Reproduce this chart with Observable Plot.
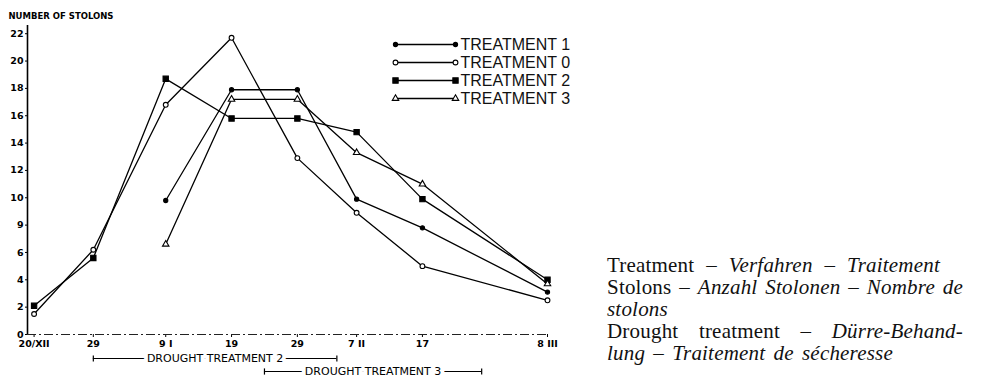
<!DOCTYPE html>
<html>
<head>
<meta charset="utf-8">
<script src="https://cdn.jsdelivr.net/npm/d3@7"></script>
<script src="https://cdn.jsdelivr.net/npm/@observablehq/plot@0.6"></script>
<style>
  html, body { margin: 0; padding: 0; background: white; }
  #wrap { position: relative; width: 983px; height: 379px; overflow: hidden; background: white; }
  #chart { position: absolute; left: 0; top: 0; }
  #legend { position: absolute; left: 385px; top: 33px; }
  #caption { position: absolute; left: 607px; top: 254px; width: 356px;
    font-family: "Liberation Serif", "Times New Roman", serif; font-size: 21px; line-height: 22px;
    letter-spacing: 0.2px; color: #111; }
  #caption div { white-space: nowrap; }
  #caption .j { text-align: justify; text-align-last: justify; }
</style>
</head>
<body>
<div id="wrap">
  <div id="chart"></div>
  <div id="legend"></div>
  <div id="caption">
    <div class="j" style="width:333px">Treatment – <i>Verfahren – Traitement</i></div>
    <div class="j">Stolons – <i>Anzahl Stolonen</i> – <i>Nombre de</i></div>
    <div><i>stolons</i></div>
    <div class="j">Drought treatment – <i>Dürre-Behand-</i></div>
    <div class="j" style="width:286px"><i>lung – Traitement de sécheresse</i></div>
  </div>
</div>
<script>
// ---- data ----
const utc = (y, m, d) => new Date(Date.UTC(y, m, d));
const sampleDates = [utc(1970,11,20), utc(1970,11,29), utc(1971,0,9), utc(1971,0,19),
                     utc(1971,0,29), utc(1971,1,7), utc(1971,1,17), utc(1971,2,8)];
const xTickLabels = ["20/XII", "29", "9 I", "19", "29", "7 II", "17", "8 III"];

const yTicks = [0, 2, 4, 6, 8, 10, 12, 14, 16, 18, 20, 22];
const yTickLabels = ["0", "2", "4", "6", "9", "10", "12", "14", "16", "18", "20", "22"];

const treatment1 = [null, null, 9.8, 17.9, 17.9, 9.9, 7.8, 3.1];
const treatment0 = [1.5, 6.2, 16.8, 21.7, 12.9, 8.9, 5.0, 2.5];
const treatment2 = [2.1, 5.6, 18.7, 15.8, 15.8, 14.8, 9.9, 4.0];
const treatment3 = [null, null, 6.6, 17.2, 17.2, 13.3, 11.0, 3.7];

const seriesNames = ["TREATMENT 1", "TREATMENT 0", "TREATMENT 2", "TREATMENT 3"];
const seriesValues = [treatment1, treatment0, treatment2, treatment3];

const droughtLabels = ["DROUGHT TREATMENT 2", "DROUGHT TREATMENT 3"];
const droughtStart = [utc(1970,11,29), utc(1971,0,24)];
const droughtEnd = [utc(1971,1,4), utc(1971,1,26)];

const yTitle = "NUMBER OF STOLONS";

// ---- derived tables ----
const rows = [];
seriesNames.forEach((s, k) => seriesValues[k].forEach((v, i) => {
  if (v != null) rows.push({series: s, date: sampleDates[i], value: v});
}));
const xLabelMap = new Map(sampleDates.map((d, i) => [+d, xTickLabels[i]]));
const yLabelMap = new Map(yTicks.map((t, i) => [t, yTickLabels[i]]));
const drought = droughtLabels.map((l, i) => ({label: l, start: droughtStart[i], end: droughtEnd[i],
  mid: new Date((+droughtStart[i] + +droughtEnd[i]) / 2)}));

const markerStyle = {
  "TREATMENT 1": {symbol: "circle", fill: "black", r: 2.1},
  "TREATMENT 0": {symbol: "circle", fill: "white", r: 2.4},
  "TREATMENT 2": {symbol: "square", fill: "black", r: 3.0},
  "TREATMENT 3": {symbol: "triangle", fill: "white", r: 2.4}
};
const bar = {draw(context, size) { const h = Math.sqrt(size) / 2; context.moveTo(0, -h); context.lineTo(0, h); }};

const markerMarks = (data, xAcc, yAcc) => seriesNames.map(s => Plot.dot(data.filter(d => d.series === s), {
  x: xAcc, y: yAcc, symbol: markerStyle[s].symbol, r: markerStyle[s].r,
  fill: markerStyle[s].fill, stroke: "black", strokeWidth: 1.1
}));

const W = 983, H = 379;
const chart = Plot.plot({
  width: W, height: H,
  marginLeft: 27, marginRight: W - 547, marginTop: 25, marginBottom: 45,
  style: {fontFamily: "DejaVu Sans", fontSize: "9px", color: "black", background: "white", overflow: "visible"},
  x: {type: "utc", domain: [utc(1970,11,19), utc(1971,2,8)]},
  y: {domain: [0, 22.6]},
  marks: [
    Plot.axisY({ticks: yTicks, tickFormat: d => yLabelMap.get(d), tickSize: 2, tickPadding: 2,
      fontWeight: "bold", fontSize: 9.5, label: null}),
    Plot.axisX({ticks: sampleDates, tickFormat: d => xLabelMap.get(+d), tickSize: 3, tickPadding: 3,
      fontWeight: "bold", fontSize: 9.5, label: null}),
    Plot.ruleX([utc(1970,11,19)], {y1: 0, y2: 22.6, stroke: "black", strokeWidth: 1.6}),
    Plot.ruleY([0], {stroke: "#222", strokeWidth: 1.1, strokeDasharray: "9,3,2,3"}),
    Plot.line(rows, {x: "date", y: "value", z: "series", stroke: "black", strokeWidth: 1.3}),
    ...markerMarks(rows, "date", "value"),
    // drought treatment brackets
    Plot.ruleY([drought[0]], {x1: "start", x2: "end", y: () => 0, dy: 24, stroke: "black", strokeWidth: 1.1}),
    Plot.dot([drought[0].start, drought[0].end], {x: d => d, y: () => 0, dy: 24, symbol: bar, r: 3.5, stroke: "black", strokeWidth: 1.2}),
    Plot.text([drought[0]], {x: "mid", y: () => 0, dy: 24, text: "label", fontSize: 11, fill: "black",
      stroke: "white", strokeWidth: 8}),
    Plot.ruleY([drought[1]], {x1: "start", x2: "end", y: () => 0, dy: 37, stroke: "black", strokeWidth: 1.1}),
    Plot.dot([drought[1].start, drought[1].end], {x: d => d, y: () => 0, dy: 37, symbol: bar, r: 3.5, stroke: "black", strokeWidth: 1.2}),
    Plot.text([drought[1]], {x: "mid", y: () => 0, dy: 37, text: "label", fontSize: 11, fill: "black",
      stroke: "white", strokeWidth: 8}),
    Plot.text([yTitle], {frameAnchor: "top-left", text: d => d, dx: -19, dy: -13, textAnchor: "start",
      fontSize: 8.5, fontWeight: "bold", fill: "black"})
  ]
});
document.getElementById("chart").append(chart);

// ---- legend ----
const legendRows = seriesNames.flatMap(s => [{series: s, x: 0}, {series: s, x: 1}]);
const legend = Plot.plot({
  width: 200, height: 80, marginLeft: 10, marginRight: 130, marginTop: 10, marginBottom: 13.7,
  style: {background: "transparent", overflow: "visible"},
  x: {domain: [0, 1], axis: null},
  y: {type: "point", domain: seriesNames, padding: 0, axis: null},
  marks: [
    Plot.ruleY(seriesNames, {x1: 0, x2: 1, y: d => d, stroke: "black", strokeWidth: 1.3}),
    ...markerMarks(legendRows, "x", "series"),
    Plot.text(seriesNames, {x: 1, y: d => d, text: d => d, dx: 5, textAnchor: "start",
      fontFamily: "Liberation Sans", fontSize: 16, fill: "#111"})
  ]
});
document.getElementById("legend").append(legend);
</script>
</body>
</html>
